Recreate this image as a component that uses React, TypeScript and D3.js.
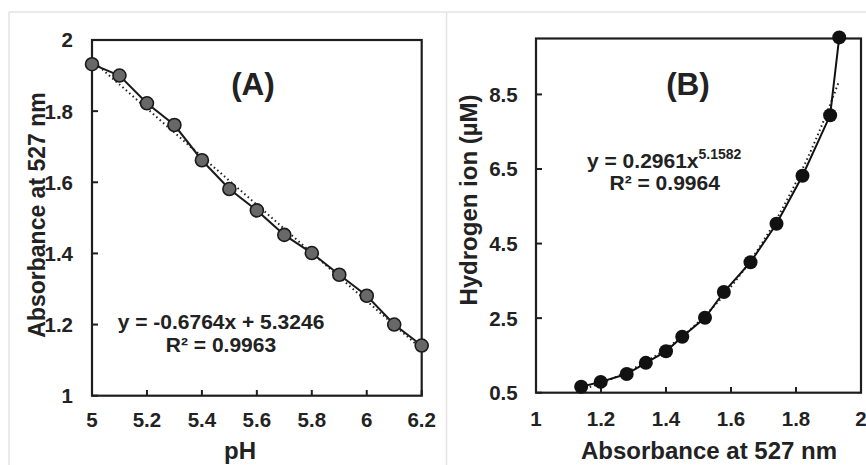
import React from "react";
import * as d3 from "d3";

const pH = [5.0, 5.1, 5.2, 5.3, 5.4, 5.5, 5.6, 5.7, 5.8, 5.9, 6.0, 6.1, 6.2];
const absorbanceA = [1.932, 1.9, 1.822, 1.761, 1.662, 1.581, 1.521, 1.452, 1.401, 1.34, 1.281, 1.2, 1.141];

const absorbanceB = [1.139, 1.199, 1.279, 1.338, 1.4, 1.45, 1.52, 1.578, 1.66, 1.74, 1.82, 1.905, 1.933];
const hydrogenB = [0.66, 0.79, 1.0, 1.3, 1.61, 2.0, 2.51, 3.2, 4.0, 5.03, 6.32, 7.94, 10.03];

const xTicksA = [5, 5.2, 5.4, 5.6, 5.8, 6, 6.2];
const yTicksA = [1, 1.2, 1.4, 1.6, 1.8, 2];
const xTicksB = [1, 1.2, 1.4, 1.6, 1.8, 2];
const yTicksB = [0.5, 2.5, 4.5, 6.5, 8.5];

const linSlope = -0.6764;
const linIntercept = 5.3246;
const powCoef = 0.2961;
const powExp = 5.1582;

const FONT = "'Liberation Sans', Arial, sans-serif";

export default function App() {
  const xA = d3.scaleLinear().domain([5, 6.2]).range([92, 421.7]);
  const yA = d3.scaleLinear().domain([1, 2]).range([395.7, 40]);
  const xB = d3.scaleLinear().domain([1, 2]).range([536, 861]);
  const yB = d3.scaleLinear().domain([0.5, 10]).range([392.7, 38.5]);

  const lineA = d3.line<number>().x((_, i) => xA(pH[i])).y((d) => yA(d));
  const lineB = d3.line<number>().x((_, i) => xB(absorbanceB[i])).y((d) => yB(d));

  const trendAx = [pH[0], pH[pH.length - 1]];
  const trendA = d3.line<number>().x((d) => xA(d)).y((d) => yA(linSlope * d + linIntercept))(trendAx);
  const bMin = d3.min(absorbanceB)!;
  const bMax = d3.max(absorbanceB)!;
  const trendBx = d3.range(0, 61).map((i) => bMin + ((bMax - bMin) * i) / 60);
  const trendB = d3.line<number>().x((d) => xB(d)).y((d) => yB(powCoef * Math.pow(d, powExp)))(trendBx);

  const tickFs = 20.5;
  const eqFs = 21;
  const frame = "#1e1e1e";

  return (
    <svg width={866} height={465} style={{ position: "absolute", left: 0, top: 0, background: "#fff" }} fontFamily={FONT} fontWeight="bold">
      <rect x={0} y={0} width={866} height={465} fill="#fff" />
      {/* panel borders */}
      <line x1={9} y1={12} x2={866} y2={12} stroke="#e3e3e3" strokeWidth={1.5} />
      <line x1={9} y1={12} x2={9} y2={465} stroke="#e3e3e3" strokeWidth={1.5} />
      <line x1={446.5} y1={12} x2={446.5} y2={465} stroke="#e3e3e3" strokeWidth={1.5} />

      {/* Panel A */}
      <rect x={92} y={40} width={421.7 - 92} height={395.7 - 40} fill="none" stroke={frame} strokeWidth={2.2} />
      {xTicksA.map((t) => (
        <g key={"xa" + t}>
          <line x1={xA(t)} x2={xA(t)} y1={395.7} y2={390} stroke={frame} strokeWidth={2} />
          <text x={xA(t)} y={427.3} textAnchor="middle" fontSize={tickFs} fill="#222">{t}</text>
        </g>
      ))}
      {yTicksA.map((t) => (
        <g key={"ya" + t}>
          <line x1={92} x2={98} y1={yA(t)} y2={yA(t)} stroke={frame} strokeWidth={2} />
          <text x={73} y={yA(t)} dy="0.36em" textAnchor="end" fontSize={tickFs} fill="#222">{t}</text>
        </g>
      ))}
      <path d={trendA!} fill="none" stroke="#222" strokeWidth={2} strokeDasharray="1.5,3" />
      <path d={lineA(absorbanceA)!} fill="none" stroke="#1a1a1a" strokeWidth={2} />
      {absorbanceA.map((v, i) => (
        <circle key={"pa" + i} cx={xA(pH[i])} cy={yA(v)} r={6.5} fill="#686868" stroke="#1a1a1a" strokeWidth={1.6} />
      ))}
      <text x={253} y={95} textAnchor="middle" fontSize={31.5} fill="#222">(A)</text>
      <text x={221} y={329} textAnchor="middle" fontSize={eqFs} fill="#222">y = -0.6764x + 5.3246</text>
      <text x={221} y={352.3} textAnchor="middle" fontSize={eqFs} fill="#222">R² = 0.9963</text>
      <text x={240} y={459} textAnchor="middle" fontSize={24} fill="#222">pH</text>
      <text transform="translate(45,215) rotate(-90)" textAnchor="middle" fontSize={23} fill="#222">Absorbance at 527 nm</text>

      {/* Panel B */}
      <rect x={536} y={38.5} width={861 - 536} height={392.7 - 38.5} fill="none" stroke={frame} strokeWidth={2.2} />
      {xTicksB.map((t) => (
        <g key={"xb" + t}>
          <line x1={xB(t)} x2={xB(t)} y1={392.7} y2={387} stroke={frame} strokeWidth={2} />
          <text x={xB(t)} y={426} textAnchor="middle" fontSize={tickFs} fill="#222">{t}</text>
        </g>
      ))}
      {yTicksB.map((t) => (
        <g key={"yb" + t}>
          <line x1={536} x2={542} y1={yB(t)} y2={yB(t)} stroke={frame} strokeWidth={2} />
          <text x={517.7} y={yB(t)} dy="0.36em" textAnchor="end" fontSize={tickFs} fill="#222">{t}</text>
        </g>
      ))}
      <path d={trendB!} fill="none" stroke="#222" strokeWidth={2} strokeDasharray="1.5,3" />
      <path d={lineB(hydrogenB)!} fill="none" stroke="#111" strokeWidth={2} />
      {hydrogenB.map((v, i) => (
        <circle key={"pb" + i} cx={xB(absorbanceB[i])} cy={yB(v)} r={7} fill="#111" />
      ))}
      <text x={688} y={95} textAnchor="middle" fontSize={31.5} fill="#222">(B)</text>
      <text x={587} y={168.3} textAnchor="start" fontSize={eqFs} fill="#222">
        y = 0.2961x<tspan dy={-9} fontSize={14}>5.1582</tspan>
      </text>
      <text x={664.7} y={190} textAnchor="middle" fontSize={eqFs} fill="#222">R² = 0.9964</text>
      <text x={709} y={459} textAnchor="middle" fontSize={24} fill="#222">Absorbance at 527 nm</text>
      <text transform="translate(476.5,200) rotate(-90)" textAnchor="middle" fontSize={24} fill="#222">Hydrogen ion (µM)</text>
    </svg>
  );
}
